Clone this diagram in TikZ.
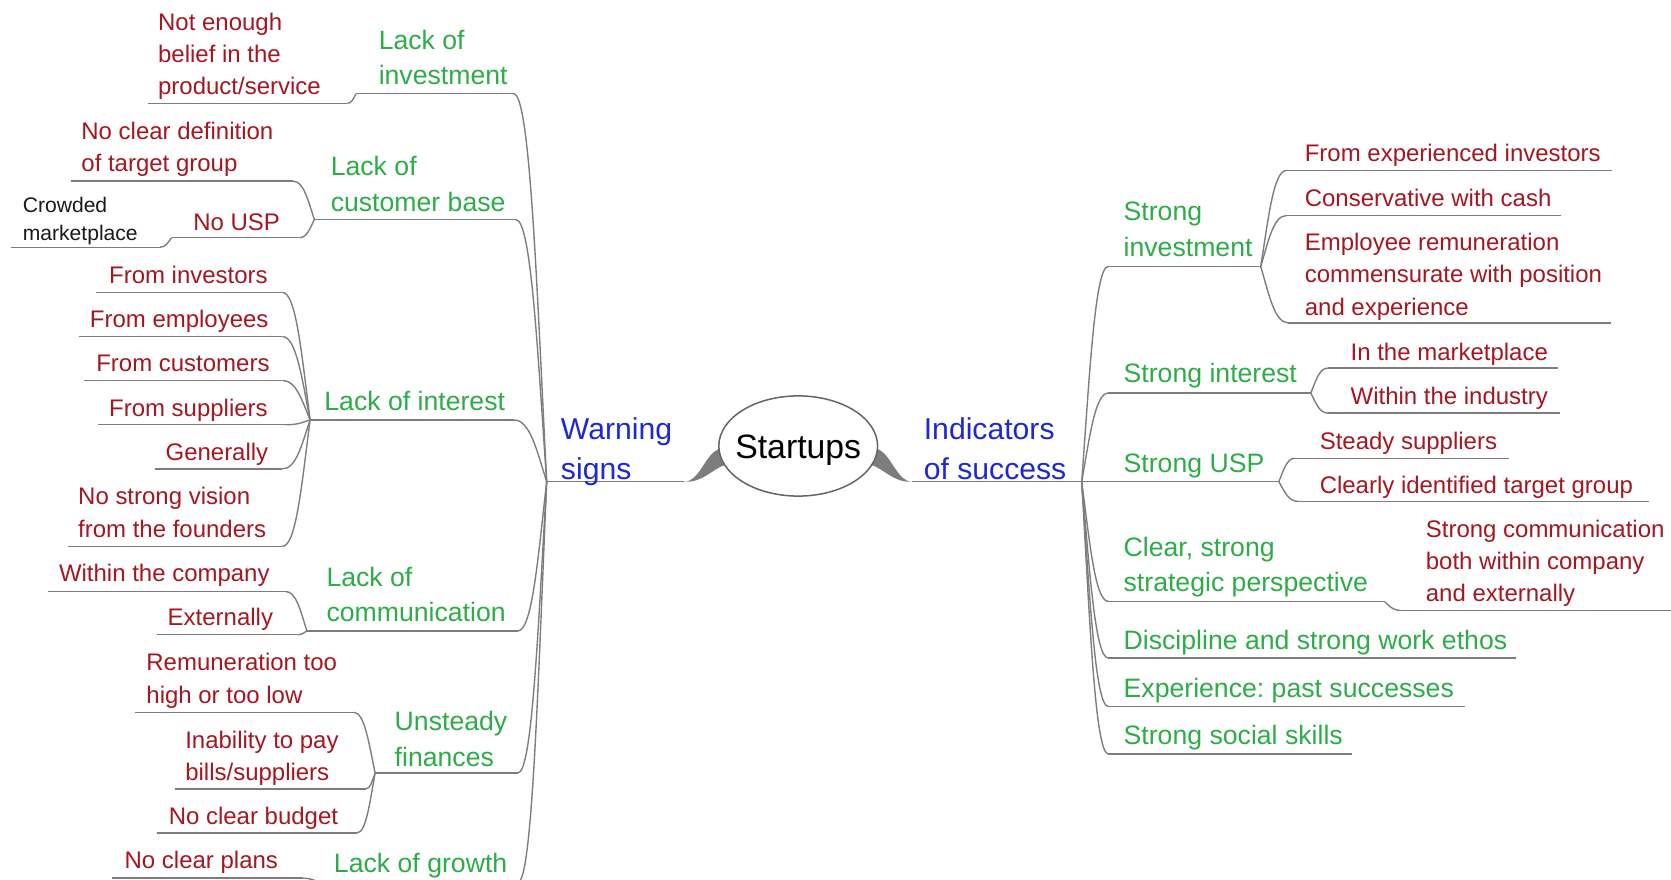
\documentclass[tikz,border=0pt]{standalone}
\usepackage{fontspec}
\setmainfont{Liberation Sans}
\usetikzlibrary{calc}
\definecolor{mmgreen}{RGB}{45,172,72}
\definecolor{mmred}{RGB}{165,22,32}
\definecolor{mmblue}{RGB}{28,40,215}
\definecolor{mmdark}{RGB}{25,25,25}
\definecolor{linegray}{RGB}{125,125,125}
\tikzset{
  lin/.style={draw=linegray,line width=0.65pt},
  txt/.style={inner sep=0pt,anchor=west,align=left},
  grt/.style={txt,text=mmgreen,font=\fontsize{12.5}{16.65}\selectfont},
  grt1/.style={grt,text height=9pt,text depth=0pt},
  redt/.style={txt,text=mmred,font=\fontsize{11.25}{15.15}\selectfont},
  redt1/.style={redt,text height=8.1pt,text depth=0pt},
  blt/.style={txt,text=mmblue,font=\fontsize{14.15}{18.5}\selectfont},
  blkt/.style={txt,text=mmdark,font=\fontsize{9.9}{13.25}\selectfont},
  centrebox/.style={draw=linegray!80!black,line width=0.7pt,fill=white},
  centretext/.style={inner sep=0pt,font=\fontsize{15.85}{19}\selectfont,text height=11.4pt,text depth=0pt},
  taper/.style={fill=linegray},
}
\newcommand\mmul[4]{\coordinate (#1-l) at (#2,#4);\coordinate (#1-r) at (#3,#4);\draw[lin] (#1-l) -- (#1-r);}
\newcommand\mmconn[2]{\draw[lin] let \p1=(#1),\p2=(#2) in (#1) .. controls ({\x1+0.3*(\x2-\x1)},{\y1+0.5*(\y2-\y1)}) and ({\x1+0.5*(\x2-\x1)},\y2) .. (#2);}
\begin{document}
\begin{tikzpicture}[x=0.5pt,y=-0.5pt]
\useasboundingbox (0,0) rectangle (1568,825.7);
\clip (0,0) rectangle (1568,825.7);

% ---------- centre ----------
\coordinate (wl) at (513,452);
\coordinate (wr) at (642,452);
\coordinate (il) at (856,452);
\coordinate (ir) at (1015,452);
\draw[lin] (wl) -- (wr);
\draw[lin] (il) -- (ir);
\fill[taper] (wr) .. controls (657,452) and (662,424) .. (676,421) -- (681,436) .. controls (668,440) and (660,453) .. (wr) -- cycle;
\fill[taper] (il) .. controls (841,452) and (836,424) .. (822,421) -- (817,436) .. controls (830,440) and (838,453) .. (il) -- cycle;
\draw[centrebox] (749,418.5) ellipse [x radius=74.5,y radius=47];
\node[centretext] (su) at (749,419) {Startups};
\node[blt] (warn) at (526,424) {Warning\\signs};
\node[blt] (indic) at (866.5,421) {Indicators\\of success};

% ---------- left main branches ----------
\node[grt] (inv) at (355,53.75) {Lack of\\investment};
\mmul{inv}{334}{482}{88}
\node[grt] (cb) at (310,172.5) {Lack of\\customer base};
\mmul{cb}{295}{484}{206}
\node[grt1] (int) at (304,376) {Lack of interest};
\mmul{int}{291}{482}{394}
\node[grt] (com) at (306,558) {Lack of\\communication};
\mmul{com}{288}{486}{592}
\node[grt] (fin) at (370,693.4) {Unsteady\\finances};
\mmul{fin}{352}{486}{725.3}
\node[grt1] (gro) at (313,809.7) {Lack of growth};
\mmul{gro}{300}{486}{828}
\foreach \b in {inv,cb,int,com,fin,gro}{\mmconn{wl}{\b-r}}

% ---------- left children ----------
\node[redt] (notenough) at (148,52.9) {Not enough\\belief in the\\product/service};
\mmul{notenough}{139}{326}{97}
\mmconn{inv-l}{notenough-r}

\node[redt] (nodef) at (76,140.4) {No clear definition\\of target group};
\mmul{nodef}{67}{275}{170}
\node[redt1] (nousp) at (181,208) {No USP};
\mmul{nousp}{161}{281}{223}
\mmconn{cb-l}{nodef-r}
\mmconn{cb-l}{nousp-r}
\node[blkt] (crowd) at (21,207.6) {Crowded\\marketplace};
\mmul{crowd}{10}{150}{232}
\mmconn{nousp-l}{crowd-r}

\node[redt1] (frinv) at (102,258) {From investors};
\mmul{frinv}{90}{265}{274.3}
\node[redt1] (fremp) at (84,299.6) {From employees};
\mmul{fremp}{74}{265}{315.8}
\node[redt1] (frcus) at (90,340.8) {From customers};
\mmul{frcus}{79}{265}{357}
\node[redt1] (frsup) at (102,382.4) {From suppliers};
\mmul{frsup}{92}{268}{398.6}
\node[redt1] (gen) at (155,424) {Generally};
\mmul{gen}{145}{265}{440}
\node[redt] (vision) at (73,480.75) {No strong vision\\from the founders};
\mmul{vision}{64}{265}{512.7}
\foreach \c in {frinv,fremp,frcus,frsup,gen,vision}{\mmconn{int-l}{\c-r}}

\node[redt1] (within) at (55,537.8) {Within the company};
\mmul{within}{45}{268}{555}
\node[redt1] (ext) at (157,579) {Externally};
\mmul{ext}{147}{279}{595.6}
\mmconn{com-l}{within-r}
\mmconn{com-l}{ext-r}

\node[redt] (remun) at (137,638.7) {Remuneration too\\high or too low};
\mmul{remun}{127}{332}{668.4}
\node[redt] (inab) at (173.5,711.25) {Inability to pay\\bills/suppliers};
\mmul{inab}{164}{343}{740.3}
\node[redt1] (budget) at (158,765.3) {No clear budget};
\mmul{budget}{147}{335}{781.5}
\foreach \c in {remun,inab,budget}{\mmconn{fin-l}{\c-r}}

\node[redt1] (plans) at (116.6,806.6) {No clear plans};
\mmul{plans}{105.5}{283}{824}
\mmconn{gro-l}{plans-r}

% ---------- right main branches ----------
\node[grt] (sinv) at (1054,215) {Strong\\investment};
\mmul{sinv}{1040}{1183}{250}
\node[grt1] (sint) at (1054,350) {Strong interest};
\mmul{sint}{1040}{1230}{368.8}
\node[grt1] (susp) at (1054,434.6) {Strong USP};
\mmul{susp}{1015}{1200}{452}
\node[grt] (clear) at (1054,532.2) {Clear, strong\\strategic perspective};
\mmul{clear}{1040}{1299}{564.3}
\node[grt1] (disc) at (1054,600.2) {Discipline and strong work ethos};
\mmul{disc}{1040}{1423}{617.5}
\node[grt1] (expe) at (1054,645.5) {Experience:\ past successes};
\mmul{expe}{1040}{1375}{663}
\node[grt1] (soc) at (1054,689.3) {Strong social skills};
\mmul{soc}{1040}{1269}{707.5}
\foreach \b in {sinv,sint,clear,disc,expe,soc}{\mmconn{ir}{\b-l}}

% ---------- right children ----------
\node[redt1] (fexp) at (1224,143.8) {From experienced investors};
\mmul{fexp}{1207}{1513}{160}
\node[redt1] (cons) at (1224,185.4) {Conservative with cash};
\mmul{cons}{1207}{1465}{202.3}
\node[redt] (empl) at (1224,259.6) {Employee remuneration\\commensurate with position\\and experience};
\mmul{empl}{1209}{1512}{303}
\foreach \c in {fexp,cons,empl}{\mmconn{sinv-r}{\c-l}}

\node[redt1] (mkt) at (1267,329.8) {In the marketplace};
\mmul{mkt}{1246}{1462}{345.4}
\node[redt1] (ind) at (1267,371.4) {Within the industry};
\mmul{ind}{1246}{1464}{387.6}
\mmconn{sint-r}{mkt-l}
\mmconn{sint-r}{ind-l}

\node[redt1] (steady) at (1238,413.3) {Steady suppliers};
\mmul{steady}{1215}{1416}{430}
\node[redt1] (clearly) at (1238,454.9) {Clearly identified target group};
\mmul{clearly}{1218}{1547}{470.5}
\mmconn{susp-r}{steady-l}
\mmconn{susp-r}{clearly-l}

\node[redt] (scomm) at (1337.6,528.65) {Strong communication\\both within company\\and externally};
\mmul{scomm}{1314}{1575}{572.7}
\mmconn{clear-r}{scomm-l}
\end{tikzpicture}
\end{document}
